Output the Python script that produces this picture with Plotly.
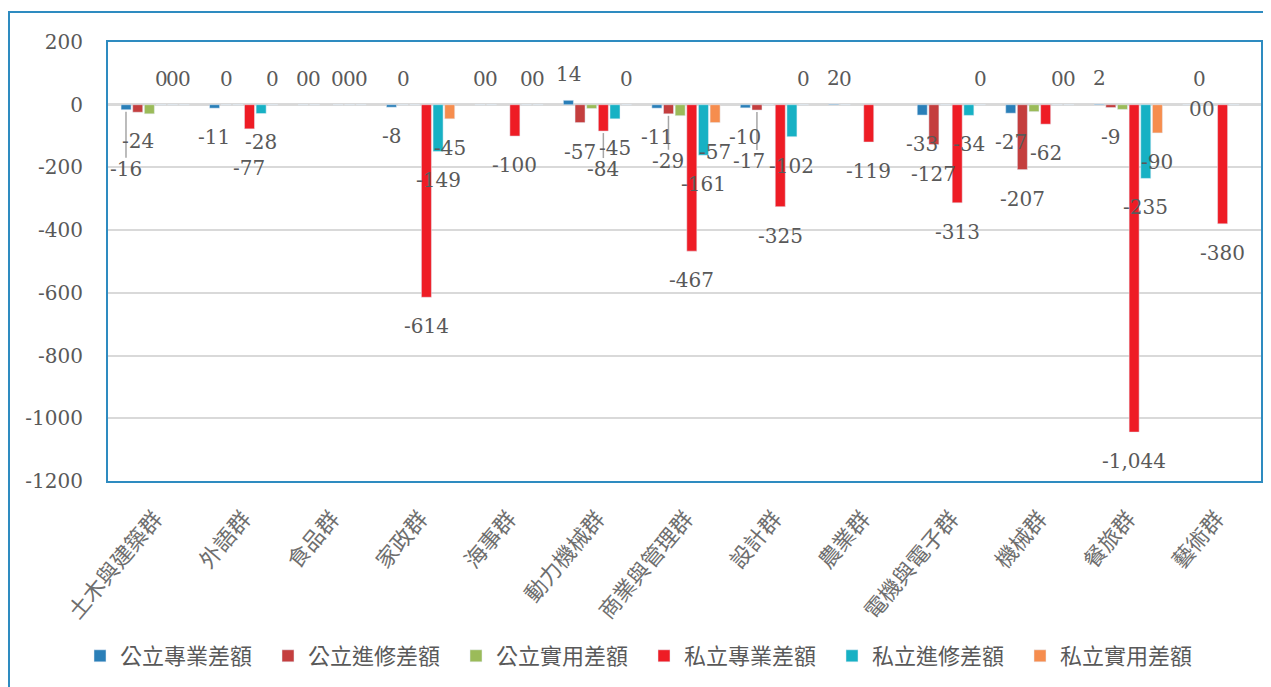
import plotly.graph_objects as go

categories = ["土木與建築群", "外語群", "食品群", "家政群", "海事群", "動力機械群", "商業與管理群",
              "設計群", "農業群", "電機與電子群", "機械群", "餐旅群", "藝術群"]

series_names = ["公立專業差額", "公立進修差額", "公立實用差額", "私立專業差額", "私立進修差額", "私立實用差額"]

pub_prof = [-16, -11, 0, -8, 0, 14, -11, -10, 2, -33, -27, 2, 0]
pub_cont = [-24, 0, 0, 0, 0, -57, -29, -17, 0, -127, -207, -9, 0]
pub_prac = [-29, 0, None, 0, None, -12, -35, 0, None, 0, -22, -15, None]
pri_prof = [0, -77, 0, -614, -100, -84, -467, -325, -119, -313, -62, -1044, -380]
pri_cont = [0, -28, 0, -149, 0, -45, -161, -102, None, -34, 0, -235, 0]
pri_prac = [0, 0, 0, -45, 0, 0, -57, 0, None, 0, 0, -90, None]

show_labels = [True, True, False, True, True, True]
colors = ["#2A7FB8", "#C43E3E", "#9BBB59", "#EE1C25", "#17B1C4", "#F68D4E"]

y_ticks = [200, 0, -200, -400, -600, -800, -1000, -1200]
y_ticktext = ["200", "0", "-200", "-400", "-600", "-800", "-1000", "-1200"]

all_series = [pub_prof, pub_cont, pub_prac, pri_prof, pri_cont, pri_prac]

# layout geometry (pixels); page body has an 8px default margin
W, H = 1263, 679
ML, MR, MT, MB = 100, 10, 34, 206
BARGAP, BARGROUPGAP = 0.21, 0.14
plot_w = W - ML - MR
plot_h = H - MT - MB
slot = plot_w / len(categories) * (1 - BARGAP) / len(all_series)

# manually moved data labels (category index, series index) -> (dx, dy) pixels
label_moves = {
    (0, 0): (0, 30),
    (1, 3): (0, 10),
    (5, 3): (0, 9),
    (6, 1): (0, 18),
    (7, 1): (-8, 22),
    (12, 0): (8, 30),
    (12, 4): (-26, 30),
}
# labels that got a leader line in the original
leader_lines = [(0, 0), (6, 1), (7, 1), (5, 3)]

def fmt(v):
    s = f"{abs(v):,}"
    return "-" + s if v < 0 else s

fig = go.Figure()
annotations = []
for si, (name, vals, col, show) in enumerate(zip(series_names, all_series, colors, show_labels)):
    fig.add_trace(go.Bar(name=name, x=categories, y=vals, marker_color=col,
                         hoverinfo="x+y+name"))
    if not show:
        continue
    for ci, v in enumerate(vals):
        if v is None:
            continue
        dx, dy = label_moves.get((ci, si), (0, 0))
        base_shift = -29 if v < 0 else 26
        annotations.append(dict(
            x=categories[ci], y=v, xref="x", yref="y", text=fmt(v), showarrow=False,
            xshift=(si - 2.5) * slot + dx, yshift=base_shift - dy,
            font=dict(family="DejaVu Serif", size=20, color="#595959"),
            xanchor="center", yanchor="middle",
        ))

for ci, si in leader_lines:
    v = all_series[si][ci]
    dx, dy = label_moves.get((ci, si), (0, 0))
    fig.add_shape(type="line", xref="x", yref="y",
                  xsizemode="pixel", ysizemode="pixel",
                  xanchor=ci, yanchor=v,
                  x0=(si - 2.5) * slot, x1=(si - 2.5) * slot,
                  y0=-2, y1=-(29 + dy - 11),
                  line=dict(color="#A6A6A6", width=1.5))

fig.update_layout(
    width=W, height=H,
    margin=dict(l=ML, r=MR, t=MT, b=MB, autoexpand=False),
    barmode="group", bargap=BARGAP, bargroupgap=BARGROUPGAP,
    paper_bgcolor="white", plot_bgcolor="white",
    font=dict(family="DejaVu Serif", color="#595959"),
    legend=dict(orientation="h", x=(72 - ML) / plot_w, xanchor="left",
                y=(H - MB - 648) / plot_h, yanchor="middle",
                font=dict(family="Noto Sans CJK TC", size=22, color="#595959"),
                entrywidth=143, entrywidthmode="pixels", traceorder="normal"),
    annotations=annotations,
)
fig.update_xaxes(showline=True, mirror=True, linecolor="#2E8BC0", linewidth=2,
                 tickangle=-50, tickfont=dict(family="Noto Sans CJK TC", size=22, color="#6E6E6E"),
                 ticks="", showgrid=False, ticklabelstandoff=14, automargin=False)
fig.update_yaxes(range=[-1200, 200], tickvals=y_ticks, ticktext=y_ticktext,
                 showline=True, mirror=True, linecolor="#2E8BC0", linewidth=2,
                 gridcolor="#D9D9D9", gridwidth=2, zeroline=True, zerolinecolor="#D9D9D9", zerolinewidth=3,
                 tickfont=dict(family="DejaVu Serif", size=20, color="#595959"),
                 ticks="", ticklabelstandoff=19, automargin=False)
fig.add_shape(type="rect", xref="paper", yref="paper",
              x0=(1 - ML) / plot_w, x1=(W - 2 - ML) / plot_w,
              y0=-0.6, y1=(H - MB - 4) / plot_h,
              line=dict(color="#2E8BC0", width=2), fillcolor="rgba(0,0,0,0)", layer="below")
fig.write_html("out.html")
